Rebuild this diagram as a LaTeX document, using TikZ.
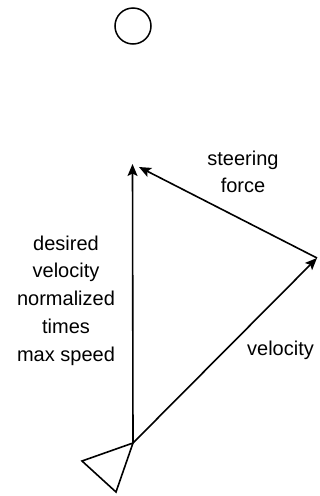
\documentclass[tikz,border=0pt]{standalone}
\usepackage{fontspec}
\setmainfont{Liberation Sans}
\usetikzlibrary{arrows.meta}
\tikzset{
  vec/.style={line width=1.6pt, -{Stealth[length=12pt,width=10pt,inset=2.5pt]}},
  lbl/.style={anchor=base, align=center, inner sep=0pt, font=\fontsize{20}{26.5}\selectfont},
}
\begin{document}
\begin{tikzpicture}[x=1pt,y=-1pt]
\useasboundingbox (0,0) rectangle (320,496);
% target up top
\node (target)[circle, draw, line width=1.5pt, minimum size=36pt, inner sep=0pt] at (133,26) {};

% the vehicle
\coordinate (o) at (133,443);
\coordinate (vl) at (82,461);
\coordinate (vb) at (116,492);
\draw[line width=1.6pt, line join=miter] (o) -- (vl) -- (vb) -- cycle;

\coordinate (vtip) at (317,258);
\coordinate (dtip) at (132.5,164);
\coordinate (stip) at (139,167);

\draw[vec] (o) -- (dtip);
\draw[vec] (o) -- (vtip);
\draw[vec] (vtip) -- (stip);

% base anchor sits on the last line
\node (steer)[lbl] at (243,192) {steering\\force};
\node (desired)[lbl, font=\fontsize{20}{27.75}\selectfont] at (66,361) {desired\\velocity\\normalized\\times\\max speed};
\node (vel)[lbl] at (280.5,355) {velocity};
\end{tikzpicture}
\end{document}
